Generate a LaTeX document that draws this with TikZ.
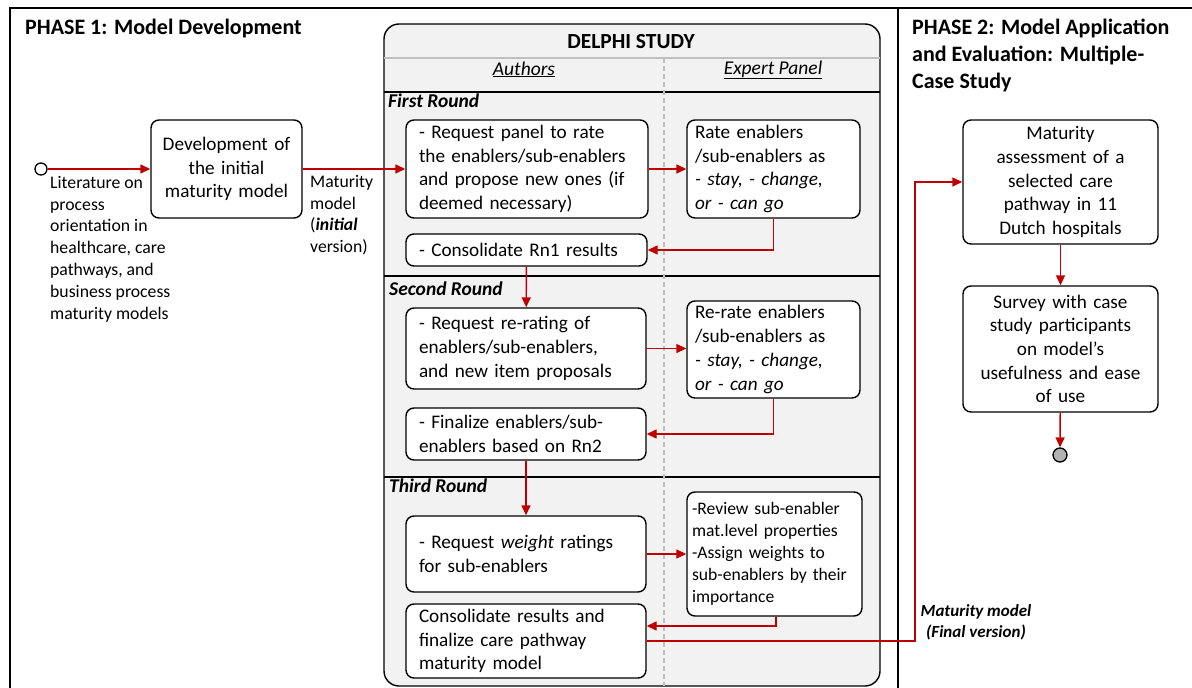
\documentclass[tikz,border=0pt]{standalone}
\usepackage{fontspec}
\setmainfont{Carlito}
\usetikzlibrary{arrows.meta,calc}
\definecolor{myred}{HTML}{C00000}
\definecolor{lanegray}{HTML}{F2F2F2}
\begin{document}
\begin{tikzpicture}[x=1pt,y=-1pt,
  box/.style={draw, rounded corners=8pt, fill=white, line width=1.4pt, inner sep=0pt,
    font=\fontsize{19.2}{23.7}\selectfont},
  lbox/.style={box, align=left},
  cbox/.style={box, align=center},
  flow/.style={draw=myred, line width=1.4pt, -{Triangle[length=10pt,width=9pt]}},
  frame/.style={line width=1.5pt},
  title/.style={font=\fontsize{22}{27}\selectfont\bfseries, inner sep=0pt, align=left},
  roundlbl/.style={font=\fontsize{19.5}{20}\selectfont\bfseries\itshape, inner sep=0pt},
  lanelbl/.style={font=\fontsize{19.5}{20}\selectfont\itshape, inner sep=0pt},
  note/.style={font=\fontsize{17.7}{21.8}\selectfont, inner sep=0pt, align=left}
]
\useasboundingbox (0,0) rectangle (1192,688);

% outer frame
\draw[frame] (10,688) -- (10,8) -- (1192,8);
\draw[frame] (898,8) -- (898,688);

% titles
\node[title, anchor=north west] (t1) at (25,19) {PHASE 1: Model Development};
\node[title, anchor=north west] (t2) at (912,19) {PHASE 2: Model Application\\and Evaluation: Multiple-\\Case Study};

% Delphi frame
\draw[line width=1.4pt, fill=lanegray, rounded corners=15pt] (384,24) rectangle (880,686);
\draw[line width=1.2pt, black!25] (384,58) -- (880,58);
\draw[line width=1.4pt] (384,92) -- (880,92);
\draw[line width=1.4pt] (384,276) -- (880,276);
\draw[line width=1.4pt] (384,477) -- (880,477);
\draw[line width=1.1pt, black!25, dashed, dash pattern=on 5pt off 3pt] (664,58) -- (664,686);

\node[font=\fontsize{21.5}{22}\selectfont\bfseries, inner sep=0pt] (delphi) at (631,41.5) {DELPHI STUDY};
\node[lanelbl, anchor=base] (authors) at (524,75) {\underline{Authors}};
\node[lanelbl, anchor=base] (panel) at (773,74) {\underline{Expert Panel}};

\node[roundlbl, anchor=base west] (rd1) at (388,107) {First Round};
\node[roundlbl, anchor=base west] (rd2) at (389,295) {Second Round};
\node[roundlbl, anchor=base west] (rd3) at (389,492) {Third Round};

% Phase 1 boxes
\node[cbox, minimum width=151pt, minimum height=98pt, text width=145pt] (dev) at (226.5,169)
  {Development of\\the initial\\maturity model};
\node[circle, draw, line width=1.3pt, fill=white, minimum size=12pt, inner sep=0pt] (start) at (41,169) {};

\node[note, anchor=north west] (lit) at (50,176)
  {Literature on\\process\\orientation in\\healthcare, care\\pathways, and\\business process\\maturity models};
\node[note, anchor=north west] (mm) at (310,175)
  {Maturity\\model\\(\textbf{\textit{initial}}\\version)};

% Delphi boxes
\node[lbox, minimum width=242pt, minimum height=98pt, text width=216pt] (r1a) at (527,169)
  {- Request panel to rate\\the enablers/sub-enablers\\and propose new ones (if\\deemed necessary)};
\node[lbox, minimum width=173pt, minimum height=98pt, text width=157pt] (r1b) at (773.5,169)
  {Rate enablers\\/sub-enablers as\\\textit{- stay, - change,}\\\textit{or - can go}};
\node[lbox, minimum width=241pt, minimum height=32pt, text width=215pt] (r1c) at (526.5,250)
  {- Consolidate Rn1 results};

\node[lbox, minimum width=240pt, minimum height=81pt, text width=214pt] (r2a) at (526,348.5)
  {- Request re-rating of\\enablers/sub-enablers,\\and new item proposals};
\node[lbox, minimum width=173pt, minimum height=97pt, text width=157pt] (r2b) at (773.5,349.5)
  {Re-rate enablers\\/sub-enablers as\\\textit{- stay, - change,}\\\textit{or - can go}};
\node[lbox, minimum width=240pt, minimum height=52pt, text width=214pt] (r2c) at (526,434)
  {- Finalize enablers/sub-\\enablers based on Rn2};

\node[lbox, minimum width=240pt, minimum height=76pt, text width=214pt] (r3a) at (526,554)
  {- Request \textit{weight} ratings\\for sub-enablers};
\node[lbox, minimum width=175pt, minimum height=124pt, text width=165pt,
  font=\fontsize{17.6}{22}\selectfont] (r3b) at (774.5,554)
  {-Review sub-enabler\\mat.level properties\\-Assign weights to\\sub-enablers by their\\importance};
\node[lbox, minimum width=240pt, minimum height=74pt, text width=214pt] (r3c) at (526,641)
  {Consolidate results and\\finalize care pathway\\maturity model};

% Phase 2 boxes
\node[cbox, minimum width=195pt, minimum height=124pt, text width=189pt] (mat) at (1060.5,182)
  {Maturity\\assessment of a\\selected care\\pathway in 11\\Dutch hospitals};
\node[cbox, minimum width=195pt, minimum height=126pt, text width=189pt] (survey) at (1060.5,349)
  {Survey with case\\study participants\\on model’s\\usefulness and ease\\of use};
\node[circle, draw, line width=1.3pt, fill=black!30, minimum size=14pt, inner sep=0pt] (stop) at (1060,455) {};

\node[font=\fontsize{17}{21}\selectfont\bfseries\itshape, inner sep=0pt, align=center, anchor=north] (fin) at (976,604)
  {Maturity model\\(Final version)};

% connectors
\draw[flow] (start) -- (dev);
\draw[flow] (dev) -- (r1a);
\draw[flow] (r1a) -- (r1b);
\draw[flow] (r1b.south) |- (r1c.east);
\draw[flow] (r1c) -- (r2a);
\draw[flow] (r2a.east) -- (r2a.east -| r2b.west);
\draw[flow] (r2b.south) |- (r2c.east);
\draw[flow] (r2c) -- (r3a);
\draw[flow] (r3a) -- (r3b);
\coordinate (r3cin) at ($(r3c.east)+(0,-15)$);
\draw[flow] (r3b.south -| 776,0) |- (r3cin);
\coordinate (turn) at (915,641);
\draw[flow] (r3c.east) -- (turn) |- (mat.west);
\draw[flow] (mat) -- (survey);
\draw[flow] (survey) -- (stop);
\end{tikzpicture}
\end{document}
